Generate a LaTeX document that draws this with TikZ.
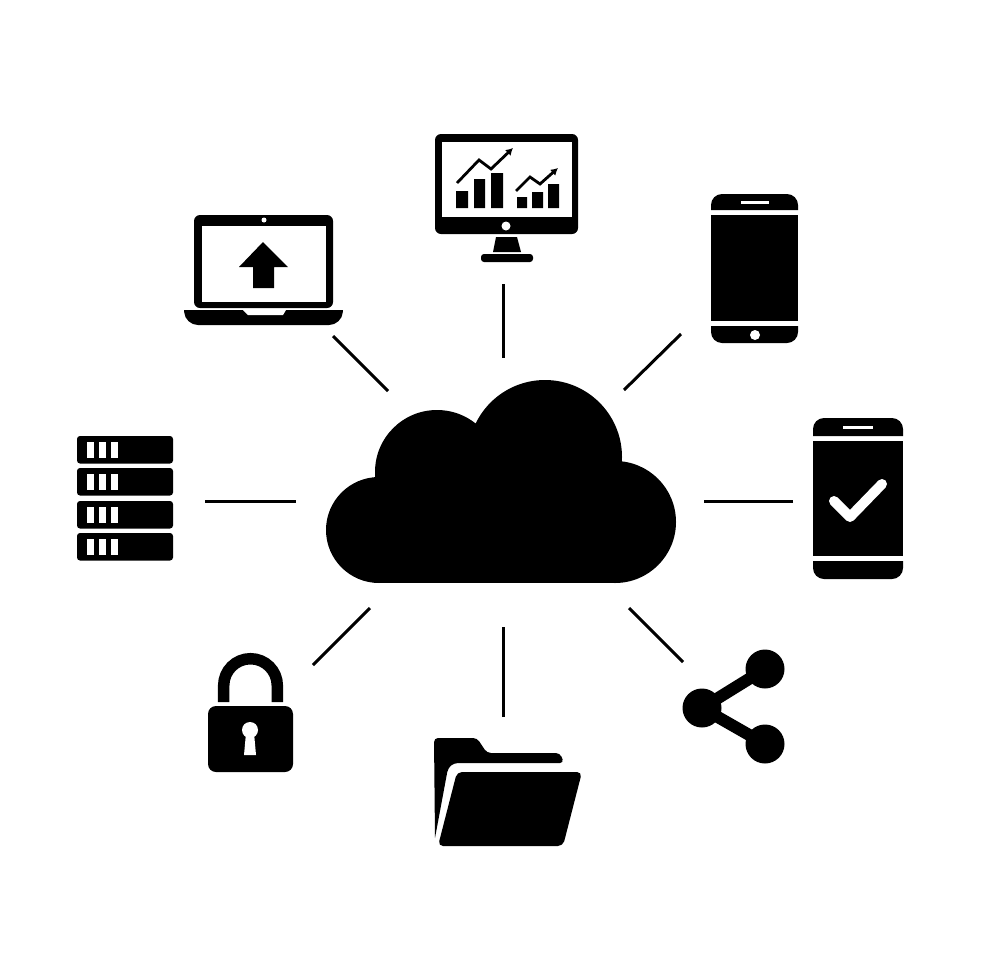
\documentclass[tikz,border=0pt]{standalone}
\usetikzlibrary{arrows.meta}
\tikzset{
  icon/.style={fill=black},
  hole/.style={fill=white},
  link/.style={draw=black,line width=3pt},
  trend/.style={draw=black,line width=2.8pt,-{Latex[length=7pt,width=8pt]}},
  rack/.style={fill=black,rounded corners=3pt},
}
\begin{document}
\begin{tikzpicture}[x=1pt,y=-1pt]
\useasboundingbox (0,0) rectangle (980,980);
\coordinate (laptopend) at (333,336);
\coordinate (laptopcloud) at (388,391);
\coordinate (monitorend) at (503.5,284);
\coordinate (monitorcloud) at (503.5,358);
\coordinate (phoneend) at (681,334);
\coordinate (phonecloud) at (624,390);
\coordinate (checkend) at (793,501);
\coordinate (checkcloud) at (704,501);
\coordinate (shareend) at (683,662);
\coordinate (sharecloud) at (629,608);
\coordinate (folderend) at (503.5,717);
\coordinate (foldercloud) at (503.5,627);
\coordinate (lockend) at (313,665);
\coordinate (lockcloud) at (370,608);
\coordinate (serverend) at (205,501);
\coordinate (servercloud) at (296,501);
\draw[link] (laptopend) -- (laptopcloud);
\draw[link] (monitorend) -- (monitorcloud);
\draw[link] (phoneend) -- (phonecloud);
\draw[link] (checkend) -- (checkcloud);
\draw[link] (shareend) -- (sharecloud);
\draw[link] (folderend) -- (foldercloud);
\draw[link] (lockend) -- (lockcloud);
\draw[link] (serverend) -- (servercloud);
% cloud
\fill[icon] (379,530) circle (53) (437,472) circle (62) (545,457) circle (77) (615,522) circle (61);
\fill[icon] (379,583) rectangle (615,465);
% monitor
\fill[icon,rounded corners=6pt] (435,134) rectangle (578,234);
\fill[hole] (442,142) rectangle (572,217);
\fill[hole] (506,226) circle (4.5);
\fill[icon] (496,237) -- (517,237) -- (521,252) -- (493,252) -- cycle;
\fill[icon,rounded corners=3pt] (481,254) rectangle (533,262);
\fill[icon] (456,191) rectangle (468,208) (474,179) rectangle (485,208) (491,173) rectangle (503,208);
\fill[icon] (517,197) rectangle (527,208) (532,192) rectangle (543,208) (548,184) rectangle (559,208);
\draw[trend] (457,183) -- (479,160) -- (491,169) -- (513,148);
\draw[trend] (516,191) -- (530,177) -- (540,184) -- (558,168);
% laptop
\fill[icon,rounded corners=6pt] (194,215) rectangle (333,308);
\fill[hole] (202,226) rectangle (326,302);
\fill[hole] (264,220) circle (2.5);
\fill[icon] (184,310) -- (343,310) [rounded corners=13pt] -- (342,325) -- (185,325) [sharp corners] -- cycle;
\fill[hole] (243,310) -- (286,310) -- (283,315) -- (248,315) -- cycle;
\fill[icon] (263,242) -- (288,267) -- (274,267) -- (274,288) -- (253,288) -- (253,267) -- (239,267) -- cycle;
% phone
\fill[icon] (711,210) [rounded corners=11pt] -- (711,194) -- (798,194) [sharp corners] -- (798,210) -- cycle;
\fill[icon] (711,215) rectangle (798,321);
\fill[icon] (711,326) -- (798,326) [rounded corners=11pt] -- (798,343) -- (711,343) [sharp corners] -- cycle;
\fill[hole] (741,201) rectangle (769,204);
\fill[hole] (755,335) circle (5);
% phone with check mark
\fill[icon] (813,436) [rounded corners=11pt] -- (813,418) -- (903,418) [sharp corners] -- (903,436) -- cycle;
\fill[icon] (813,441) rectangle (903,556);
\fill[icon] (813,561) -- (903,561) [rounded corners=11pt] -- (903,579) -- (813,579) [sharp corners] -- cycle;
\fill[hole] (843,426) rectangle (873,429);
\draw[white,line width=10pt,line cap=round,line join=round] (834,501) -- (850,517) -- (882,484);
% server
\foreach \y in {436,468,501,533} {
  \fill[rack] (77,\y) rectangle (173,\y+27.5);
  \foreach \x in {87,99,111} \fill[hole] (\x,\y+6) rectangle (\x+7,\y+22);
}
% folder
\fill[icon] (435,838) [rounded corners=4pt] -- (434,738) -- (477,738) -- (487,753) -- (560,753) -- (564,763) -- (454,763) -- (448,768) [sharp corners] -- cycle;
\fill[icon,rounded corners=5pt] (457,772) -- (582,772) -- (563,846) -- (438,846) -- cycle;
% lock
\draw[black,line width=11.5pt] (223.7,702) -- (223.7,685.5) arc[start angle=180,end angle=360,radius=26.8] -- (277.3,702);
\fill[icon,rounded corners=8pt] (208,706) rectangle (293,772);
\fill[hole] (250,730) circle (8);
\fill[hole] (246,733) -- (254,733) -- (256,755) -- (244,755) -- cycle;
% share
\draw[black,line width=12pt] (765,669) -- (702,708) -- (765,744);
\fill[icon] (765,669) circle (19.5) (702,708) circle (19.5) (765,744) circle (19.5);
\end{tikzpicture}
\end{document}
